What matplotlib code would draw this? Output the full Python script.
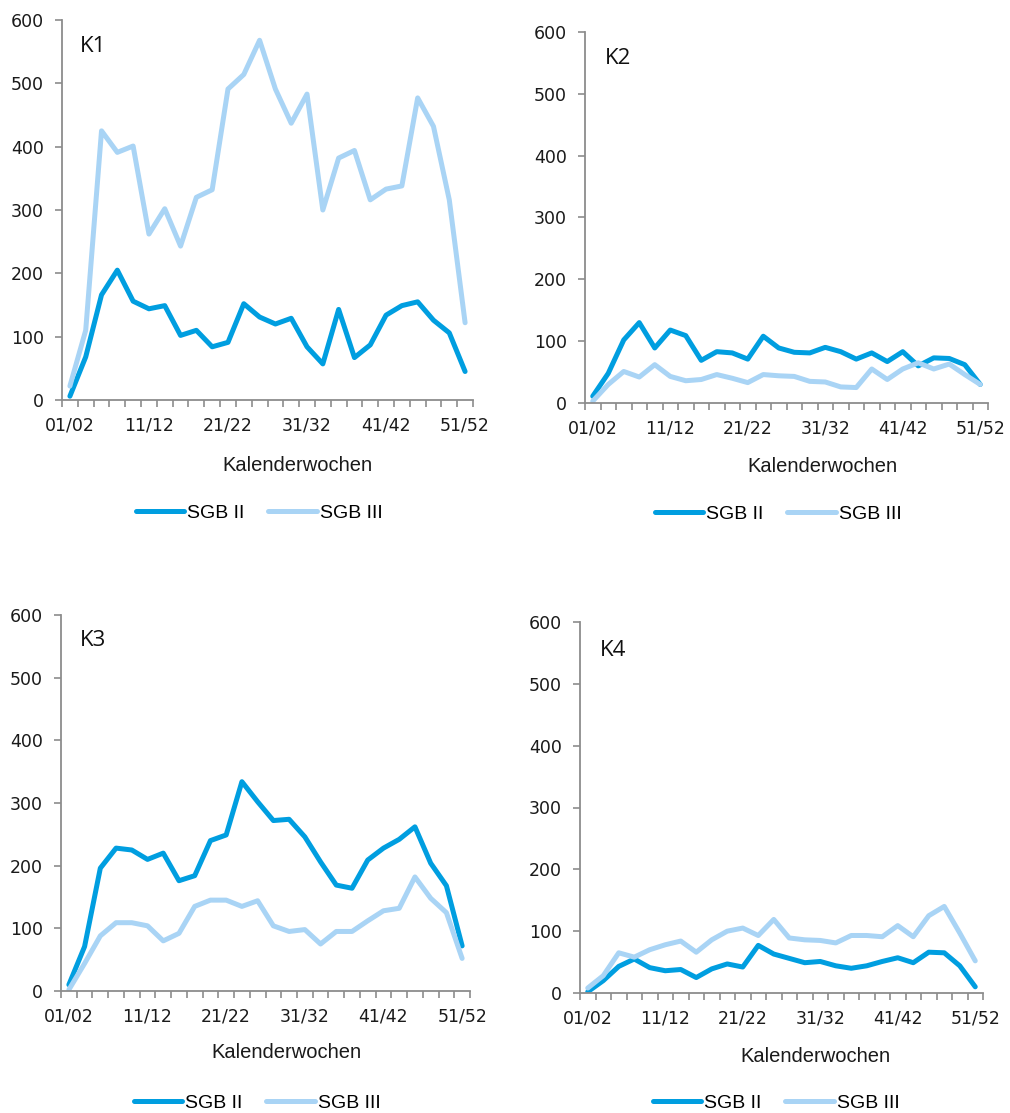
import matplotlib
matplotlib.use("Agg")
import matplotlib.pyplot as plt

# Kalenderwochen (Doppelwochen)
weeks = ["%02d/%02d" % (w, w + 1) for w in range(1, 53, 2)]
tick_weeks = ["01/02", "11/12", "21/22", "31/32", "41/42", "51/52"]

k1_sgb2 = [6, 68, 166, 205, 156, 144, 149, 102, 110, 84, 91, 152, 131, 120, 129, 84,
           57, 143, 67, 87, 134, 149, 155, 126, 106, 45]
k1_sgb3 = [22, 110, 425, 391, 401, 262, 302, 243, 320, 332, 491, 514, 568, 491, 437, 483,
           300, 382, 394, 316, 333, 338, 477, 432, 316, 122]

k2_sgb2 = [11, 48, 102, 130, 89, 118, 109, 69, 83, 81, 71, 108, 89, 82, 81, 90,
           83, 71, 81, 67, 83, 60, 73, 72, 62, 30]
k2_sgb3 = [3, 30, 51, 42, 62, 43, 36, 38, 46, 40, 33, 46, 44, 43, 35, 34,
           26, 25, 55, 38, 55, 65, 55, 63, 46, 30]

k3_sgb2 = [10, 71, 196, 228, 225, 210, 220, 176, 184, 240, 249, 334, 302, 272, 274, 246,
           206, 169, 164, 209, 228, 242, 262, 204, 168, 72]
k3_sgb3 = [2, 44, 88, 109, 109, 104, 80, 92, 135, 145, 145, 135, 144, 104, 95, 98,
           75, 95, 95, 112, 128, 132, 182, 148, 125, 52]

k4_sgb2 = [2, 20, 43, 55, 41, 36, 38, 25, 39, 47, 42, 77, 63, 56, 49, 51,
           44, 40, 44, 51, 57, 49, 66, 65, 44, 10]
k4_sgb3 = [8, 28, 65, 58, 70, 78, 84, 66, 86, 100, 105, 93, 119, 89, 86, 85,
           81, 93, 93, 91, 109, 91, 125, 140, 97, 52]

panels = ["K1", "K2", "K3", "K4"]
sgb2 = [k1_sgb2, k2_sgb2, k3_sgb2, k4_sgb2]
sgb3 = [k1_sgb3, k2_sgb3, k3_sgb3, k4_sgb3]

W, H = 1010, 1113
dark = "#009ee0"
light = "#a9d4f5"
grey = "#8c8c8c"

# axes boxes in pixels: left, right, top, bottom
boxes = [(62, 473, 20, 400), (585, 988, 32, 403), (61, 470, 615, 991), (580, 983, 622, 993)]
xlabel_pos = [(297, 465), (822, 466), (286, 1052), (815, 1057)]
legend_pos = [(259, 513), (778, 514), (257, 1103), (776, 1103)]
klabel_pos = [(80, 47), (605, 58), (80, 640), (600, 650)]

fig = plt.figure(figsize=(W / 100, H / 100), dpi=100)

for i in range(4):
    l, r, t, b = boxes[i]
    ax = fig.add_axes([l / W, 1 - b / H, (r - l) / W, (b - t) / H])
    x = list(range(len(weeks)))
    ax.plot(x, sgb2[i], color=dark, lw=3.6, label="SGB II",
            solid_capstyle="round", solid_joinstyle="round")
    ax.plot(x, sgb3[i], color=light, lw=3.6, label="SGB III",
            solid_capstyle="round", solid_joinstyle="round")

    ax.set_xlim(-0.5, len(weeks) - 0.5)
    ax.set_ylim(0, 600)
    ax.set_yticks(range(0, 601, 100))
    ax.set_xticks([k - 0.5 for k in range(len(weeks) + 1)])
    ax.set_xticklabels([])
    ax.set_xticks([weeks.index(w) for w in tick_weeks], minor=True)
    ax.set_xticklabels(tick_weeks, minor=True)
    ax.tick_params(axis="x", which="minor", length=0, pad=12)
    ax.tick_params(axis="both", which="major", length=5, width=1.2, color=grey, direction="out")
    ax.tick_params(axis="y", pad=8)
    ax.tick_params(which="both", labelsize=12.5, labelcolor="#1a1a1a")
    for s in ["top", "right"]:
        ax.spines[s].set_visible(False)
    for s in ["left", "bottom"]:
        ax.spines[s].set_color(grey)
        ax.spines[s].set_linewidth(1.3)

    ax.set_xlabel("Kalenderwochen", family="Liberation Sans", fontsize=14.5,
                  va="center", color="#1a1a1a")
    lx, ly = xlabel_pos[i]
    ax.xaxis.set_label_coords(lx / W, 1 - ly / H, transform=fig.transFigure)

    kx, ky = klabel_pos[i]
    ax.text(kx / W, 1 - ky / H, panels[i], transform=fig.transFigure, ha="left", va="center",
            family="Open Sans", fontsize=16, color="#111111")

    gx, gy = legend_pos[i]
    ax.legend(loc="center", bbox_to_anchor=(gx / W, 1 - gy / H), bbox_transform=fig.transFigure,
              ncol=2, frameon=False, handlelength=2.5, handletextpad=0.15, columnspacing=1.2,
              prop={"family": "Liberation Sans", "size": 14})

plt.savefig("out.png", dpi=100)
